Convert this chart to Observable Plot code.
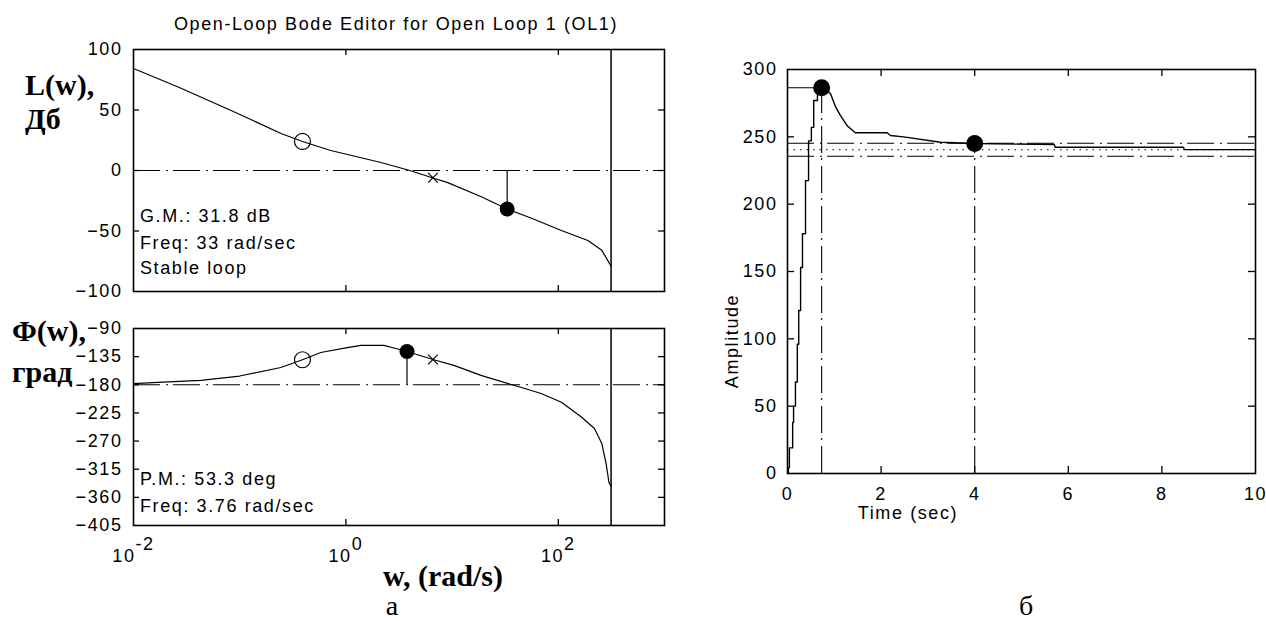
<!DOCTYPE html>
<html><head><meta charset="utf-8">
<script src="https://cdn.jsdelivr.net/npm/d3@7"></script>
<script src="https://cdn.jsdelivr.net/npm/@observablehq/plot@0.6"></script>
<style>
body{margin:0;background:#fff;}
#root{position:relative;width:1266px;height:621px;overflow:hidden;background:#fff;}
#root svg{position:absolute;}
.abs{position:absolute;white-space:nowrap;line-height:1;color:#000;}
.sans{font-family:Arial,"Liberation Sans",sans-serif;font-size:18px;letter-spacing:1.6px;}
.serifb{font-family:"Liberation Serif","Times New Roman",serif;font-weight:bold;font-size:30px;}
.serif{font-family:"Liberation Serif","Times New Roman",serif;font-size:28px;}
</style></head><body><div id="root"></div>
<script>
// ---------- data ----------
// Bode magnitude L(w), dB
const magFreq = [0.01, 0.027, 0.083, 0.245, 0.39, 0.72, 2.14, 4.0, 6.5, 9.1, 18.6, 33, 56, 107, 190, 257, 314];
const magDb   = [84.3, 68.6, 49.6, 30.6, 24, 16.5, 6.6, 0, -6, -10, -21.5, -31.8, -39.5, -49.6, -57.9, -66, -79];
// Bode phase Phi(w), deg
const phFreq = [0.01, 0.017, 0.043, 0.1, 0.244, 0.39, 0.58, 1.0, 1.39, 2.28, 2.95, 3.76, 6.6, 10.4, 18.7, 45, 69, 107, 166, 219, 257, 282, 300, 314];
const phDeg  = [-178, -176, -173, -166, -152.4, -140, -128.4, -121, -117, -117, -122, -126.7, -139.6, -149, -165, -184.4, -194, -208, -232, -250, -274, -306, -336, -342];
// markers
const circleFreq = 0.39, circleMag = 24, circlePh = -140;
const gmFreq = 33, gmMag = -31.8;
const pmFreq = 3.76, pmPh = -126.7;
const crossFreq = 6.6, crossMag = -6, crossPh = -139.6;
const nyquistFreq = 314;
// Bode ticks
const bodeXTicks = [0.01, 1, 100];
const bodeXInner = [1, 100];
const magTicks = [100, 50, 0, -50, -100];
const magInner = [50, 0, -50];
const phTicks = [-90, -135, -180, -225, -270, -315, -360, -405];
const phInner = [-135, -180, -225, -270, -315, -360];

// Step response: rise (sampled staircase) and decay
const riseT = [0, 0.02, 0.04, 0.11, 0.13, 0.17, 0.21, 0.24, 0.28, 0.32, 0.385, 0.45, 0.51, 0.56, 0.64, 0.73];
const riseA = [0, 4.5, 19, 38, 50, 68, 96, 121, 153, 178, 217.5, 247, 257, 277, 284, 286.5];
const decayT = [0.73, 0.8, 0.92, 1.03, 1.13, 1.28, 1.45, 2.13, 2.2, 2.48, 3.27, 4.0, 5.7, 5.72, 8.46, 8.48, 10];
const decayA = [286.5, 286, 282, 272, 266, 258, 253, 253, 251, 250, 246, 245, 244.3, 242.3, 242.3, 240.5, 240.5];
const peakT = 0.73, peakA = 286.5;
const settleT = 4.0, settleA = 245;
const finalA = 240.4, bandHi = 245.2, bandLo = 235.6;
const stepXTicks = [0, 2, 4, 6, 8, 10];
const stepXInner = [2, 4, 6, 8];
const stepYTicks = [0, 50, 100, 150, 200, 250, 300];
const stepYInner = [50, 100, 150, 200, 250];

// ---------- helpers ----------
const root = document.getElementById("root");
const dashDot = "27,6,2,5";
const font = {fontFamily: "Arial, 'Liberation Sans', sans-serif", fontSize: "18px", letterSpacing: "1.6px", color: "#000", background: "transparent", overflow: "visible"};

function addLabel(text, x, y, cls, anchor = "middle", rotate = 0) {
  const d = document.createElement("div");
  d.className = "abs " + cls;
  d.textContent = text;
  d.style.left = x + "px";
  d.style.top = y + "px";
  const ax = anchor === "start" ? "0" : "-50%";
  d.style.transform = `translate(${ax},-50%)` + (rotate ? ` rotate(${rotate}deg)` : "");
  root.appendChild(d);
}

function innerTicks(xs, ys, pw, ph, len) {
  return [
    Plot.tickX(xs, {x: d => d, insetBottom: ph - len, strokeWidth: 1.3}),
    Plot.tickX(xs, {x: d => d, insetTop: ph - len, strokeWidth: 1.3}),
    Plot.tickY(ys, {y: d => d, insetRight: pw - len, strokeWidth: 1.3}),
    Plot.tickY(ys, {y: d => d, insetLeft: pw - len, strokeWidth: 1.3})
  ];
}

// ---------- Bode magnitude ----------
const bW = 680, bML = 133, bMR = 16;
const bPW = bW - bML - bMR;
const magData = magFreq.map((w, i) => ({w, v: magDb[i]}));
const magPlot = Plot.plot({
  width: bW, height: 300, marginLeft: bML, marginRight: bMR, marginTop: 49, marginBottom: 9,
  style: font,
  x: {type: "log", domain: [0.01, 1000], axis: null},
  y: {domain: [-100, 100]},
  marks: [
    Plot.ruleY([0], {strokeWidth: 1.1, strokeDasharray: dashDot}),
    Plot.ruleX([nyquistFreq], {strokeWidth: 1.5}),
    Plot.line(magData, {x: "w", y: "v", strokeWidth: 1.2}),
    Plot.ruleX([{w: gmFreq, y1: 0, y2: gmMag}], {x: "w", y1: "y1", y2: "y2", strokeWidth: 1.2}),
    Plot.dot([{w: circleFreq, v: circleMag}], {x: "w", y: "v", r: 8, stroke: "#000", fill: "none", strokeWidth: 1.2}),
    Plot.dot([{w: gmFreq, v: gmMag}], {x: "w", y: "v", r: 7.5, fill: "#000"}),
    Plot.dot([{w: crossFreq, v: crossMag}], {x: "w", y: "v", r: 4.5, symbol: "times", stroke: "#000", strokeWidth: 1.2}),
    Plot.axisY({ticks: magTicks, tickSize: 0, tickPadding: 11, label: null}),
    ...innerTicks(bodeXInner, magInner, bPW, 242, 6),
    Plot.frame({strokeWidth: 1.6})
  ]
});
magPlot.style.left = "0px"; magPlot.style.top = "0px";
root.appendChild(magPlot);

// ---------- Bode phase ----------
const phData = phFreq.map((w, i) => ({w, v: phDeg[i]}));
const phPlot = Plot.plot({
  width: bW, height: 280, marginLeft: bML, marginRight: bMR, marginTop: 28, marginBottom: 55,
  style: font,
  x: {type: "log", domain: [0.01, 1000]},
  y: {domain: [-405, -90]},
  marks: [
    Plot.ruleY([-180], {strokeWidth: 1.1, strokeDasharray: dashDot}),
    Plot.ruleX([nyquistFreq], {strokeWidth: 1.5}),
    Plot.line(phData, {x: "w", y: "v", strokeWidth: 1.2}),
    Plot.ruleX([{w: pmFreq, y1: -180, y2: pmPh}], {x: "w", y1: "y1", y2: "y2", strokeWidth: 1.2}),
    Plot.dot([{w: circleFreq, v: circlePh}], {x: "w", y: "v", r: 8, stroke: "#000", fill: "none", strokeWidth: 1.2}),
    Plot.dot([{w: pmFreq, v: pmPh}], {x: "w", y: "v", r: 7.5, fill: "#000"}),
    Plot.dot([{w: crossFreq, v: crossPh}], {x: "w", y: "v", r: 4.5, symbol: "times", stroke: "#000", strokeWidth: 1.2}),
    Plot.axisY({ticks: phTicks, tickSize: 0, tickPadding: 11, label: null}),
    Plot.axisX({ticks: bodeXTicks, tickSize: 0, tickPadding: 24, label: null,
      tickFormat: d => "10^" + Math.round(Math.log10(d))}),
    ...innerTicks(bodeXInner, phInner, bPW, 197, 6),
    Plot.frame({strokeWidth: 1.6})
  ]
});
phPlot.style.left = "0px"; phPlot.style.top = "300px";
root.appendChild(phPlot);
// superscript exponents on the log tick labels
d3.select(phPlot).selectAll('g[aria-label="x-axis tick label"] text').each(function () {
  const parts = this.textContent.split("^");
  if (parts.length !== 2) return;
  const t = d3.select(this);
  t.text(null);
  t.append("tspan").text(parts[0]);
  t.append("tspan").attr("dy", "-0.68em").text(parts[1]);
});

// ---------- Step response ----------
const sW = 576, sML = 97, sMR = 11, sMT = 69, sMB = 67, sH = 540;
const riseData = riseT.map((t, i) => ({t, a: riseA[i]}));
const decayData = decayT.map((t, i) => ({t, a: decayA[i]}));
const stepPlot = Plot.plot({
  width: sW, height: sH, marginLeft: sML, marginRight: sMR, marginTop: sMT, marginBottom: sMB,
  style: font,
  x: {domain: [0, 10]},
  y: {domain: [0, 300]},
  marks: [
    Plot.ruleY([bandHi, bandLo], {strokeWidth: 1.1, strokeDasharray: dashDot}),
    Plot.ruleY([finalA], {strokeWidth: 1.1, strokeDasharray: "1.5,5"}),
    Plot.ruleX([{t: peakT, y1: 0, y2: peakA}], {x: "t", y1: "y1", y2: "y2", strokeWidth: 1.1, strokeDasharray: dashDot}),
    Plot.ruleX([{t: settleT, y1: 0, y2: settleA}], {x: "t", y1: "y1", y2: "y2", strokeWidth: 1.1, strokeDasharray: dashDot}),
    Plot.ruleY([{a: peakA, x1: 0, x2: peakT}], {y: "a", x1: "x1", x2: "x2", strokeWidth: 1.1, strokeDasharray: dashDot}),
    Plot.line(riseData, {x: "t", y: "a", curve: "step-after", strokeWidth: 1.4}),
    Plot.line(decayData, {x: "t", y: "a", strokeWidth: 1.4}),
    Plot.dot([{t: peakT, a: peakA}, {t: settleT, a: settleA}], {x: "t", y: "a", r: 8.5, fill: "#000"}),
    Plot.axisX({ticks: stepXTicks, tickSize: 0, tickPadding: 14, label: null}),
    Plot.axisY({ticks: stepYTicks, tickSize: 0, tickPadding: 10, label: null}),
    ...innerTicks(stepXInner, stepYInner, sW - sML - sMR, sH - sMT - sMB, 7),
    Plot.frame({strokeWidth: 1.6})
  ]
});
stepPlot.style.left = "690px"; stepPlot.style.top = "0px";
root.appendChild(stepPlot);

// ---------- texts ----------
addLabel("Open-Loop Bode Editor for Open Loop 1 (OL1)", 396, 24, "sans");
addLabel("L(w),", 25, 85, "serifb", "start");
addLabel("Дб", 25, 119, "serifb", "start");
addLabel("Φ(w),", 12, 331, "serifb", "start");
addLabel("град", 12, 372, "serifb", "start");
addLabel("G.M.: 31.8 dB", 140, 216, "sans", "start");
addLabel("Freq: 33 rad/sec", 140, 243, "sans", "start");
addLabel("Stable loop", 140, 268, "sans", "start");
addLabel("P.M.: 53.3 deg", 140, 479, "sans", "start");
addLabel("Freq: 3.76 rad/sec", 140, 506, "sans", "start");
addLabel("w, (rad/s)", 443, 576, "serifb");
addLabel("а", 392, 606, "serif");
addLabel("Amplitude", 732, 341, "sans", "middle", -90);
addLabel("Time (sec)", 908, 513, "sans");
addLabel("б", 1026, 606, "serif");
</script>
</body></html>
